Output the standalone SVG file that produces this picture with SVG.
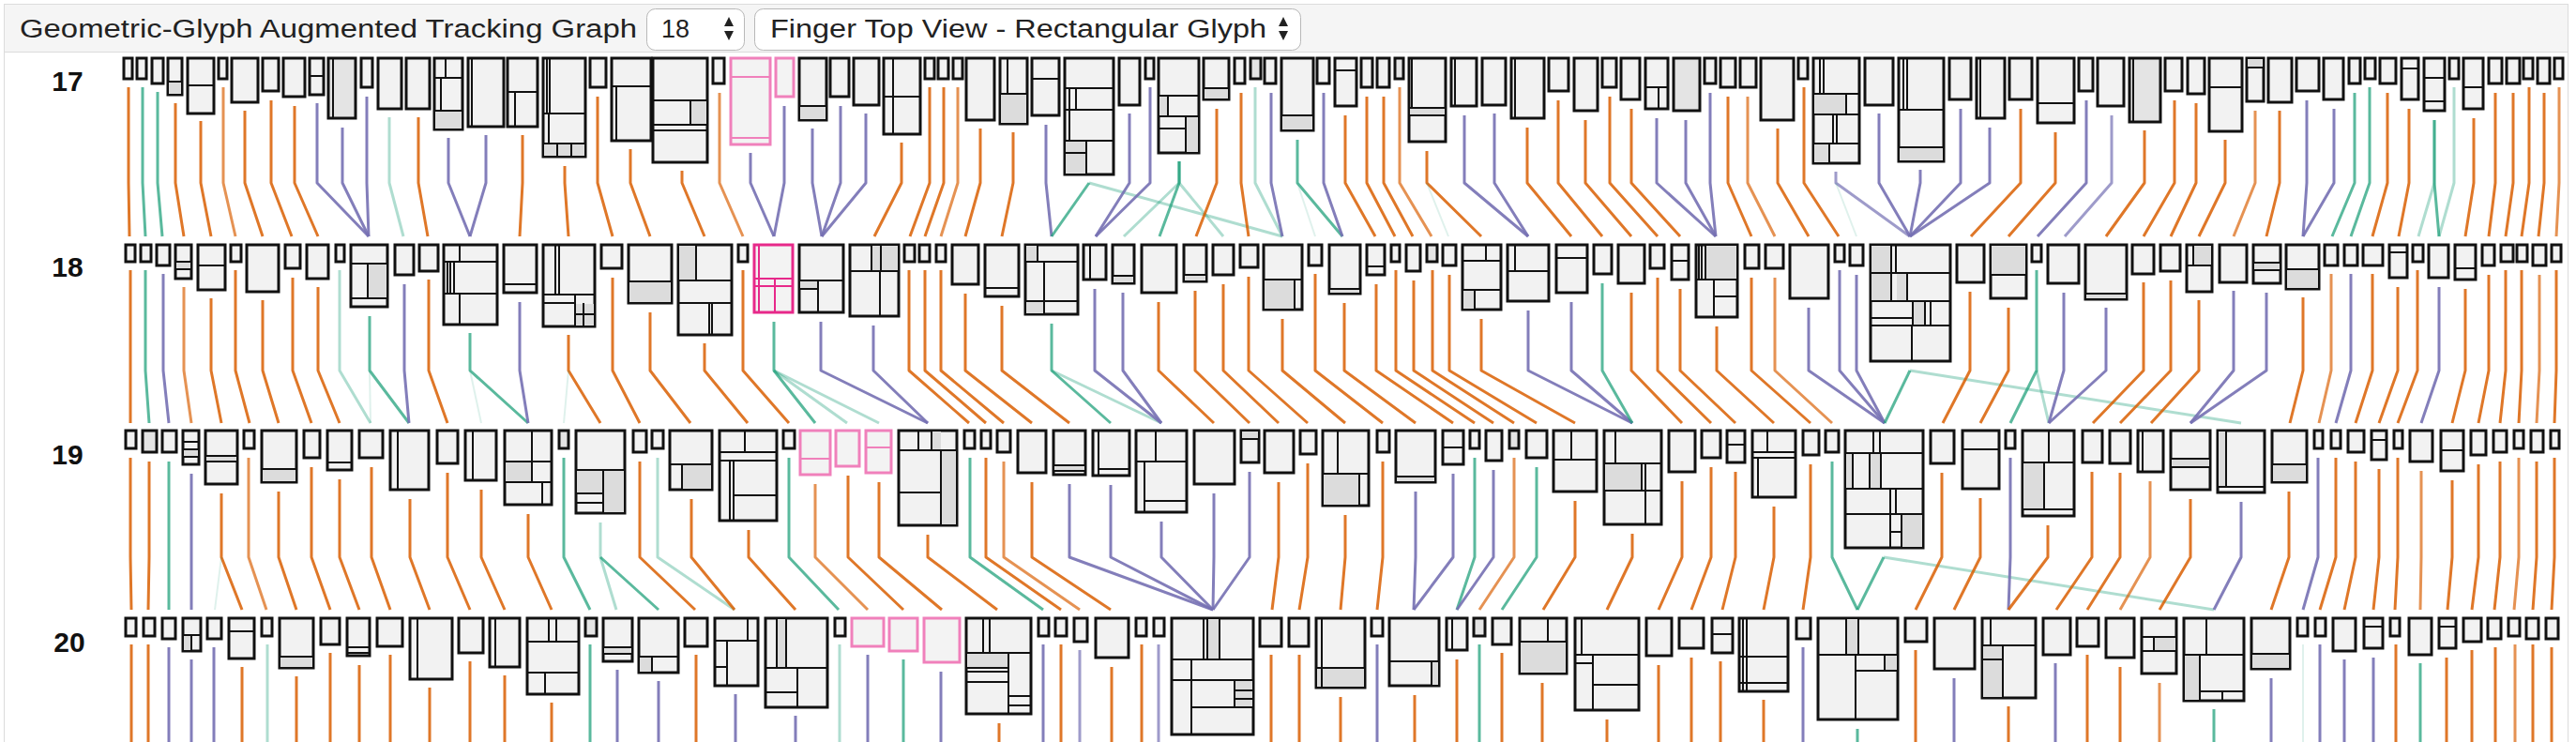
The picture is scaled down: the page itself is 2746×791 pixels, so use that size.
<svg xmlns="http://www.w3.org/2000/svg" width="2746" height="791" viewBox="0 0 2746 791">
<style>
.hd{font-family:"Liberation Sans",Arial,sans-serif;font-size:27px;fill:#222}
.lb{font-family:"Liberation Sans",Arial,sans-serif;font-size:30px;font-weight:bold;fill:#111;text-anchor:middle}
.n rect{fill:#f2f2f2;stroke:#111;stroke-width:3}
.n rect.d{fill:#dcdcdc;stroke:none}
.n rect.g{fill:#e4e4e4}
.n path{fill:none;stroke:#111;stroke-width:2}
.pkS rect{stroke:#e7298a;fill:#f3f3f3}
.pkS path{stroke:#e7298a}
.pkL rect{stroke:#f080bb;fill:#f3f3f3}
.pkL path{stroke:#f080bb}
#edges path{fill:none;stroke-width:3;stroke-linejoin:round}
#edges .o{stroke:#d95f02;stroke-opacity:.85}
#edges .ol{stroke:#d95f02;stroke-opacity:.68}
#edges .t{stroke:#1b9e77;stroke-opacity:.72}
#edges .tl{stroke:#1b9e77;stroke-opacity:.35}
#edges .tf{stroke:#1b9e77;stroke-opacity:.14;stroke-width:2}
#edges .p{stroke:#7570b3;stroke-opacity:.9}
#edges .q{stroke:#7570b3;stroke-opacity:.7}
</style>
<rect x="0" y="0" width="2746" height="791" fill="#fff"/>
<rect x="4.5" y="4.5" width="2733" height="51" fill="#f5f5f5" stroke="#dcdcdc"/>
<path d="M4.5 56V791M2737.5 56V791" stroke="#dcdcdc" fill="none"/>
<g id="header">
<text class="hd" x="21" y="40" textLength="658" lengthAdjust="spacingAndGlyphs">Geometric-Glyph Augmented Tracking Graph</text>
<rect x="689.5" y="9.5" width="104" height="44" rx="9" fill="#fff" stroke="#b8b8b8"/>
<text class="hd" x="705" y="40">18</text>
<path d="M772 28H782L777 18ZM772 33H782L777 43Z" fill="#222"/>
<rect x="804.5" y="9.5" width="582" height="44" rx="9" fill="#fff" stroke="#b8b8b8"/>
<text class="hd" x="821" y="40" textLength="529" lengthAdjust="spacingAndGlyphs">Finger Top View - Rectangular Glyph</text>
<path d="M1363 28H1373L1368 18ZM1363 33H1373L1368 43Z" fill="#222"/>
</g>
<g id="labels">
<text class="lb" x="72" y="97">17</text>
<text class="lb" x="72" y="295">18</text>
<text class="lb" x="72" y="495">19</text>
<text class="lb" x="74" y="695">20</text>
</g>
<g id="edges">
<path class="o" d="M137 93V195L138 252"/>
<path class="t" d="M152 93V195L155 252"/>
<path class="t" d="M168 98V195L173 252"/>
<path class="o" d="M187 110V195L196 252"/>
<path class="o" d="M214 129V195L225 252"/>
<path class="ol" d="M238 93V195L251 252"/>
<path class="o" d="M261 118V195L280 252"/>
<path class="o" d="M289 107V195L311 252"/>
<path class="o" d="M314 113V195L339 252"/>
<path class="p" d="M338 110V195L393 252"/>
<path class="p" d="M365 136V195L393 252"/>
<path class="p" d="M391 103V195L393 252"/>
<path class="tl" d="M415 125V195L430 252"/>
<path class="o" d="M446 125V195L456 252"/>
<path class="p" d="M478 147V195L501 252"/>
<path class="p" d="M518 144V195L501 252"/>
<path class="o" d="M557 144V195L554 252"/>
<path class="o" d="M602 177V195L606 252"/>
<path class="o" d="M637 103V195L653 252"/>
<path class="o" d="M672 159V195L693 252"/>
<path class="o" d="M727 182V195L751 252"/>
<path class="ol" d="M767 99V195L792 252"/>
<path class="p" d="M800 163V195L825 252"/>
<path class="p" d="M836 113V195L825 252"/>
<path class="p" d="M866 137V195L876 252"/>
<path class="p" d="M896 113V195L876 252"/>
<path class="p" d="M923 121V195L876 252"/>
<path class="o" d="M961 152V195L932 252"/>
<path class="o" d="M991 93V195L970 252"/>
<path class="o" d="M1006 93V195L986 252"/>
<path class="ol" d="M1021 93V195L1003 252"/>
<path class="o" d="M1045 137V195L1029 252"/>
<path class="o" d="M1080 141V195L1068 252"/>
<path class="p" d="M1115 133V195L1121 252"/>
<path class="t" d="M1161 195L1121 252"/>
<path class="tl" d="M1161 195L1367 252"/>
<path class="p" d="M1204 121V195L1168 252"/>
<path class="p" d="M1226 93V195L1168 252"/>
<path class="tl" d="M1257 172V195L1198 252"/>
<path class="t" d="M1257 172V195L1236 252"/>
<path class="tl" d="M1257 172V195L1304 252"/>
<path class="o" d="M1297 116V195L1275 252"/>
<path class="o" d="M1323 99V195L1331 252"/>
<path class="tl" d="M1338 93V195L1367 252"/>
<path class="p" d="M1355 99V195L1367 252"/>
<path class="t" d="M1383 149V195L1431 252"/>
<path class="tf" d="M1383 195L1402 252"/>
<path class="p" d="M1411 99V195L1431 252"/>
<path class="o" d="M1434 123V195L1466 252"/>
<path class="o" d="M1457 103V195L1487 252"/>
<path class="o" d="M1475 103V195L1506 252"/>
<path class="ol" d="M1492 93V195L1526 252"/>
<path class="o" d="M1521 161V195L1579 252"/>
<path class="tf" d="M1521 195L1544 252"/>
<path class="p" d="M1561 123V195L1629 252"/>
<path class="p" d="M1593 121V195L1629 252"/>
<path class="o" d="M1628 136V195L1675 252"/>
<path class="o" d="M1661 107V195L1708 252"/>
<path class="o" d="M1690 128V195L1739 252"/>
<path class="o" d="M1716 103V195L1767 252"/>
<path class="o" d="M1739 116V195L1791 252"/>
<path class="p" d="M1766 126V195L1829 252"/>
<path class="p" d="M1797 128V195L1829 252"/>
<path class="p" d="M1823 99V195L1829 252"/>
<path class="o" d="M1842 103V195L1867 252"/>
<path class="ol" d="M1863 103V195L1892 252"/>
<path class="o" d="M1895 137V195L1928 252"/>
<path class="o" d="M1923 93V195L1960 252"/>
<path class="q" d="M1957 183V195L2036 252"/>
<path class="tf" d="M1957 195L1979 252"/>
<path class="p" d="M2003 121V195L2036 252"/>
<path class="p" d="M2047 181V195L2036 252"/>
<path class="p" d="M2090 116V195L2036 252"/>
<path class="p" d="M2121 136V195L2036 252"/>
<path class="o" d="M2154 116V195L2101 252"/>
<path class="o" d="M2191 141V195L2141 252"/>
<path class="p" d="M2224 107V195L2172 252"/>
<path class="q" d="M2251 123V195L2201 252"/>
<path class="o" d="M2286 139V195L2245 252"/>
<path class="o" d="M2318 107V195L2285 252"/>
<path class="o" d="M2341 110V195L2314 252"/>
<path class="o" d="M2372 149V195L2344 252"/>
<path class="ol" d="M2404 118V195L2381 252"/>
<path class="o" d="M2430 118V195L2416 252"/>
<path class="p" d="M2459 107V195L2455 252"/>
<path class="p" d="M2488 116V195L2455 252"/>
<path class="t" d="M2510 99V195L2486 252"/>
<path class="t" d="M2526 93V195L2506 252"/>
<path class="o" d="M2545 99V195L2529 252"/>
<path class="o" d="M2568 116V195L2557 252"/>
<path class="tl" d="M2595 128V195L2578 252"/>
<path class="t" d="M2595 128V195L2600 252"/>
<path class="tl" d="M2616 93V195L2600 252"/>
<path class="o" d="M2637 126V195L2628 252"/>
<path class="o" d="M2660 99V195L2653 252"/>
<path class="o" d="M2679 99V195L2671 252"/>
<path class="o" d="M2696 93V195L2688 252"/>
<path class="o" d="M2712 99V195L2706 252"/>
<path class="ol" d="M2728 93V195L2725 252"/>
<path class="o" d="M139 288V395L139 451"/>
<path class="t" d="M155 288V395L159 451"/>
<path class="p" d="M174 292V395L180 451"/>
<path class="ol" d="M196 306V395L204 451"/>
<path class="o" d="M225 318V395L236 451"/>
<path class="o" d="M251 288V395L266 451"/>
<path class="o" d="M280 320V395L297 451"/>
<path class="o" d="M312 296V395L332 451"/>
<path class="o" d="M339 306V395L362 451"/>
<path class="tl" d="M362 288V395L395 451"/>
<path class="t" d="M394 337V395L436 451"/>
<path class="tf" d="M394 395L395 451"/>
<path class="p" d="M431 303V395L436 451"/>
<path class="o" d="M457 298V395L477 451"/>
<path class="t" d="M501 355V395L563 451"/>
<path class="tf" d="M501 395L513 451"/>
<path class="p" d="M554 322V395L563 451"/>
<path class="o" d="M606 357V395L640 451"/>
<path class="tf" d="M606 395L601 451"/>
<path class="o" d="M653 296V395L682 451"/>
<path class="o" d="M693 333V395L736 451"/>
<path class="o" d="M751 366V395L797 451"/>
<path class="o" d="M792 288V395L841 451"/>
<path class="t" d="M825 343V395L869 451"/>
<path class="tl" d="M825 395L903 451"/>
<path class="tl" d="M825 395L937 451"/>
<path class="p" d="M875 343V395L989 451"/>
<path class="p" d="M931 347V395L989 451"/>
<path class="o" d="M969 288V395L1033 451"/>
<path class="o" d="M986 288V395L1051 451"/>
<path class="o" d="M1003 288V395L1070 451"/>
<path class="o" d="M1029 313V395L1100 451"/>
<path class="o" d="M1068 326V395L1140 451"/>
<path class="t" d="M1121 345V395L1184 451"/>
<path class="tl" d="M1121 395L1238 451"/>
<path class="p" d="M1167 308V395L1238 451"/>
<path class="p" d="M1197 312V395L1238 451"/>
<path class="o" d="M1235 322V395L1294 451"/>
<path class="o" d="M1274 310V395L1332 451"/>
<path class="o" d="M1304 303V395L1363 451"/>
<path class="o" d="M1331 295V395L1394 451"/>
<path class="o" d="M1367 340V395L1434 451"/>
<path class="o" d="M1402 292V395L1474 451"/>
<path class="o" d="M1433 323V395L1509 451"/>
<path class="o" d="M1467 303V395L1549 451"/>
<path class="o" d="M1488 288V395L1572 451"/>
<path class="o" d="M1507 299V395L1592 451"/>
<path class="o" d="M1527 288V395L1614 451"/>
<path class="o" d="M1545 293V395L1638 451"/>
<path class="o" d="M1579 340V395L1679 451"/>
<path class="p" d="M1629 331V395L1740 451"/>
<path class="p" d="M1675 322V395L1740 451"/>
<path class="t" d="M1708 302V395L1740 451"/>
<path class="o" d="M1739 312V395L1793 451"/>
<path class="o" d="M1767 296V395L1824 451"/>
<path class="o" d="M1791 308V395L1850 451"/>
<path class="o" d="M1830 348V395L1891 451"/>
<path class="o" d="M1867 296V395L1930 451"/>
<path class="ol" d="M1892 296V395L1953 451"/>
<path class="p" d="M1928 328V395L2009 451"/>
<path class="p" d="M1961 288V395L2009 451"/>
<path class="p" d="M1979 293V395L2009 451"/>
<path class="t" d="M2036 395L2009 451"/>
<path class="tl" d="M2036 395L2389 451"/>
<path class="o" d="M2100 311V395L2071 451"/>
<path class="o" d="M2141 328V395L2111 451"/>
<path class="t" d="M2171 288V395L2143 451"/>
<path class="tl" d="M2171 395L2184 451"/>
<path class="p" d="M2200 312V395L2184 451"/>
<path class="p" d="M2245 328V395L2184 451"/>
<path class="o" d="M2285 301V395L2231 451"/>
<path class="o" d="M2314 299V395L2260 451"/>
<path class="o" d="M2344 320V395L2293 451"/>
<path class="p" d="M2381 310V395L2335 451"/>
<path class="p" d="M2416 312V395L2335 451"/>
<path class="o" d="M2455 317V395L2441 451"/>
<path class="ol" d="M2485 292V395L2472 451"/>
<path class="p" d="M2506 292V395L2490 451"/>
<path class="o" d="M2529 292V395L2511 451"/>
<path class="o" d="M2556 306V395L2536 451"/>
<path class="o" d="M2577 288V395L2556 451"/>
<path class="p" d="M2600 306V395L2581 451"/>
<path class="o" d="M2628 308V395L2614 451"/>
<path class="o" d="M2653 293V395L2642 451"/>
<path class="o" d="M2671 288V395L2665 451"/>
<path class="o" d="M2688 288V395L2685 451"/>
<path class="ol" d="M2707 293V395L2704 451"/>
<path class="o" d="M2725 288V395L2723 451"/>
<path class="o" d="M139 488V594L140 650"/>
<path class="o" d="M159 492V594L158 650"/>
<path class="t" d="M180 492V594L180 650"/>
<path class="p" d="M204 505V594L204 650"/>
<path class="o" d="M236 526V594L258 650"/>
<path class="tf" d="M236 594L229 650"/>
<path class="ol" d="M265 488V594L284 650"/>
<path class="o" d="M297 524V594L316 650"/>
<path class="o" d="M332 498V594L352 650"/>
<path class="o" d="M362 511V594L383 650"/>
<path class="o" d="M396 498V594L416 650"/>
<path class="o" d="M437 532V594L458 650"/>
<path class="o" d="M477 504V594L501 650"/>
<path class="o" d="M513 522V594L538 650"/>
<path class="o" d="M563 548V594L588 650"/>
<path class="t" d="M601 488V594L629 650"/>
<path class="tl" d="M640 557V594L657 650"/>
<path class="t" d="M640 594L702 650"/>
<path class="o" d="M682 492V594L741 650"/>
<path class="tl" d="M701 488V594L783 650"/>
<path class="o" d="M737 532V594L783 650"/>
<path class="o" d="M798 565V594L848 650"/>
<path class="t" d="M841 488V594L894 650"/>
<path class="ol" d="M869 516V594L925 650"/>
<path class="o" d="M904 507V594L963 650"/>
<path class="o" d="M937 514V594L1004 650"/>
<path class="o" d="M989 570V594L1063 650"/>
<path class="t" d="M1034 488V594L1112 650"/>
<path class="o" d="M1051 488V594L1131 650"/>
<path class="ol" d="M1070 492V594L1151 650"/>
<path class="o" d="M1100 514V594L1184 650"/>
<path class="p" d="M1140 516V594L1293 650"/>
<path class="p" d="M1184 517V594L1293 650"/>
<path class="p" d="M1238 556V594L1293 650"/>
<path class="p" d="M1294 526V594L1293 650"/>
<path class="p" d="M1332 503V594L1293 650"/>
<path class="o" d="M1363 514V594L1356 650"/>
<path class="o" d="M1394 494V594L1385 650"/>
<path class="o" d="M1434 549V594L1429 650"/>
<path class="o" d="M1474 492V594L1468 650"/>
<path class="p" d="M1509 524V594L1507 650"/>
<path class="p" d="M1549 505V594L1507 650"/>
<path class="t" d="M1572 488V594L1553 650"/>
<path class="p" d="M1592 501V594L1553 650"/>
<path class="ol" d="M1614 488V594L1577 650"/>
<path class="t" d="M1638 498V594L1601 650"/>
<path class="o" d="M1679 534V594L1645 650"/>
<path class="o" d="M1740 569V594L1713 650"/>
<path class="o" d="M1793 513V594L1768 650"/>
<path class="o" d="M1824 498V594L1803 650"/>
<path class="o" d="M1850 503V594L1836 650"/>
<path class="o" d="M1891 540V594L1880 650"/>
<path class="o" d="M1930 495V594L1922 650"/>
<path class="t" d="M1953 492V594L1980 650"/>
<path class="t" d="M2008 594L1980 650"/>
<path class="tl" d="M2008 594L2360 650"/>
<path class="o" d="M2070 504V594L2042 650"/>
<path class="o" d="M2111 531V594L2083 650"/>
<path class="p" d="M2143 488V594L2141 650"/>
<path class="o" d="M2183 560V594L2141 650"/>
<path class="o" d="M2230 503V594L2192 650"/>
<path class="o" d="M2260 504V594L2225 650"/>
<path class="ol" d="M2292 513V594L2260 650"/>
<path class="o" d="M2335 532V594L2302 650"/>
<path class="p" d="M2389 535V594L2360 650"/>
<path class="o" d="M2440 524V594L2421 650"/>
<path class="p" d="M2471 488V594L2455 650"/>
<path class="o" d="M2490 488V594L2473 650"/>
<path class="o" d="M2511 492V594L2499 650"/>
<path class="o" d="M2536 500V594L2530 650"/>
<path class="o" d="M2556 488V594L2553 650"/>
<path class="ol" d="M2581 502V594L2580 650"/>
<path class="o" d="M2614 512V594L2609 650"/>
<path class="o" d="M2642 495V594L2635 650"/>
<path class="o" d="M2665 492V594L2659 650"/>
<path class="ol" d="M2685 488V594L2680 650"/>
<path class="o" d="M2704 492V594L2700 650"/>
<path class="o" d="M2723 488V594L2720 650"/>
<path class="o" d="M140 687V791M158 687V791M258 711V791M316 721V791M352 696V791M383 709V791M416 698V791M458 733V791M501 705V791M538 720V791M588 749V791M742 698V791M1065 771V791M1131 687V791M1185 711V791M1217 687V791M1355 698V791M1385 698V791M1429 743V791M1508 741V791M1553 703V791M1601 696V791M1644 728V791M1713 767V791M1768 709V791M1803 701V791M1834 705V791M1880 746V791M2042 693V791M2141 753V791M2225 698V791M2260 711V791M2554 687V791M2608 701V791M2635 693V791M2660 690V791M2700 687V791M2720 690V791"/>
<path class="ol" d="M2302 728V791M2681 687V791"/>
<path class="p" d="M180 690V791M204 703V791M228 690V791M658 714V791M702 726V791M784 740V791M848 763V791M925 698V791M1003 716V791M1112 687V791M1468 687V791M1922 690V791M2083 723V791M2191 707V791M2421 723V791M2473 687V791M2499 703V791M2530 701V791"/>
<path class="q" d="M1151 693V791M1235 687V791"/>
<path class="t" d="M629 687V791M963 703V791M1577 687V791M1980 777V791M2360 756V791M2580 707V791"/>
<path class="tl" d="M285 687V791M895 687V791"/>
<path class="tf" d="M2455 687V791"/>
</g>
<g id="row17">
<g id="n17-1" class="n"><rect x="132" y="62" width="9" height="22"/></g>
<g id="n17-2" class="n"><rect x="146" y="62" width="10" height="22"/></g>
<g id="n17-3" class="n"><rect x="162" y="62" width="12" height="27"/></g>
<g id="n17-4" class="n"><rect x="179" y="62" width="15" height="39"/><rect class="d" x="180" y="88" width="13" height="12"/><path d="M179 87H194"/></g>
<g id="n17-5" class="n"><rect x="200" y="62" width="28" height="59"/><path d="M200 91H228"/></g>
<g id="n17-6" class="n"><rect x="233" y="62" width="9" height="22"/></g>
<g id="n17-7" class="n"><rect x="247" y="62" width="28" height="47"/></g>
<g id="n17-8" class="n"><rect x="280" y="62" width="17" height="35"/></g>
<g id="n17-9" class="n"><rect x="302" y="62" width="23" height="41"/></g>
<g id="n17-10" class="n"><rect x="330" y="62" width="15" height="39"/><path d="M330 81H345"/></g>
<g id="n17-11" class="n"><rect class="g" x="350" y="62" width="29" height="64"/><path d="M355 62V126"/></g>
<g id="n17-12" class="n"><rect x="385" y="62" width="12" height="31"/></g>
<g id="n17-13" class="n"><rect x="403" y="62" width="25" height="54"/></g>
<g id="n17-14" class="n"><rect x="433" y="62" width="25" height="54"/></g>
<g id="n17-15" class="n"><rect x="463" y="62" width="30" height="76"/><rect class="d" x="464" y="119" width="28" height="18"/><path d="M463 83H493M463 118H493M475 62V83M470 83V118"/></g>
<g id="n17-16" class="n"><rect x="499" y="62" width="38" height="73"/><path d="M503 62V135"/></g>
<g id="n17-17" class="n"><rect x="541" y="62" width="32" height="73"/><path d="M541 98H573M549 98V135"/></g>
<g id="n17-18" class="n"><rect x="579" y="62" width="45" height="105"/><rect class="d" x="580" y="154" width="43" height="12"/><path d="M579 121H624M579 153H624M583 62V121M586 62V121M585 121V153M594 153V167M609 153V167"/></g>
<g id="n17-19" class="n"><rect x="629" y="62" width="17" height="31"/></g>
<g id="n17-20" class="n"><rect x="652" y="62" width="42" height="88"/><path d="M652 92H694M657 92V150"/></g>
<g id="n17-21" class="n"><rect x="696" y="62" width="58" height="111"/><rect class="d" x="737" y="108" width="16" height="24"/><path d="M696 107H754M696 133H754M696 139H754M736 107V133"/></g>
<g id="n17-22" class="n"><rect x="760" y="62" width="12" height="27"/></g>
<g id="n17-23" class="n pkL"><rect x="779" y="62" width="42" height="92"/><path d="M779 82H821M779 147H821"/></g>
<g id="n17-24" class="n pkL"><rect x="827" y="62" width="19" height="41"/></g>
<g id="n17-25" class="n"><rect x="852" y="62" width="29" height="66"/><rect class="d" x="853" y="114" width="27" height="13"/><path d="M852 113H881"/></g>
<g id="n17-26" class="n"><rect x="885" y="62" width="20" height="41"/></g>
<g id="n17-27" class="n"><rect x="910" y="62" width="27" height="50"/></g>
<g id="n17-28" class="n"><rect x="942" y="62" width="39" height="81"/><path d="M942 103H981M952 62V143"/></g>
<g id="n17-29" class="n"><rect x="986" y="62" width="10" height="22"/></g>
<g id="n17-30" class="n"><rect x="1000" y="62" width="11" height="22"/></g>
<g id="n17-31" class="n"><rect x="1016" y="62" width="10" height="22"/></g>
<g id="n17-32" class="n"><rect x="1030" y="62" width="30" height="66"/></g>
<g id="n17-33" class="n"><rect x="1066" y="62" width="29" height="70"/><rect class="d" x="1067" y="101" width="27" height="30"/><path d="M1066 100H1095M1074 62V100"/></g>
<g id="n17-34" class="n"><rect x="1100" y="62" width="29" height="61"/><path d="M1100 84H1129"/></g>
<g id="n17-35" class="n"><rect x="1135" y="62" width="52" height="124"/><rect class="d" x="1136" y="151" width="21" height="34"/><path d="M1135 94H1187M1135 117H1187M1135 150H1187M1135 163H1158M1140 94V150M1147 94V117M1158 150V186"/></g>
<g id="n17-36" class="n"><rect x="1193" y="62" width="22" height="50"/></g>
<g id="n17-37" class="n"><rect x="1221" y="62" width="9" height="22"/></g>
<g id="n17-38" class="n"><rect x="1235" y="62" width="43" height="101"/><rect class="d" x="1236" y="103" width="9" height="21"/><rect class="d" x="1265" y="125" width="12" height="37"/><path d="M1235 102H1278M1235 124H1278M1235 137H1264M1245 102V124M1264 124V163"/></g>
<g id="n17-39" class="n"><rect x="1283" y="62" width="27" height="44"/><rect class="d" x="1284" y="95" width="25" height="10"/><path d="M1283 94H1310"/></g>
<g id="n17-40" class="n"><rect x="1316" y="62" width="11" height="27"/></g>
<g id="n17-41" class="n"><rect class="g" x="1333" y="62" width="11" height="22"/></g>
<g id="n17-42" class="n"><rect x="1348" y="62" width="12" height="27"/></g>
<g id="n17-43" class="n"><rect x="1366" y="62" width="34" height="77"/><rect class="d" x="1367" y="124" width="32" height="14"/><path d="M1366 123H1400"/></g>
<g id="n17-44" class="n"><rect x="1404" y="62" width="13" height="27"/></g>
<g id="n17-45" class="n"><rect x="1423" y="62" width="23" height="51"/><path d="M1423 75H1446"/></g>
<g id="n17-46" class="n"><rect x="1451" y="62" width="12" height="31"/></g>
<g id="n17-47" class="n"><rect x="1468" y="62" width="13" height="31"/></g>
<g id="n17-48" class="n"><rect class="g" x="1487" y="62" width="9" height="22"/></g>
<g id="n17-49" class="n"><rect x="1502" y="62" width="39" height="89"/><rect class="d" x="1503" y="116" width="37" height="7"/><path d="M1505 62V115M1502 115H1541M1502 123H1541"/></g>
<g id="n17-50" class="n"><rect x="1547" y="62" width="27" height="51"/><path d="M1551 62V113"/></g>
<g id="n17-51" class="n"><rect x="1580" y="62" width="25" height="50"/></g>
<g id="n17-52" class="n"><rect x="1611" y="62" width="35" height="64"/><path d="M1615 62V126"/></g>
<g id="n17-53" class="n"><rect x="1651" y="62" width="21" height="35"/></g>
<g id="n17-54" class="n"><rect x="1678" y="62" width="25" height="56"/></g>
<g id="n17-55" class="n"><rect x="1708" y="62" width="15" height="31"/></g>
<g id="n17-56" class="n"><rect x="1728" y="62" width="20" height="44"/></g>
<g id="n17-57" class="n"><rect x="1754" y="62" width="24" height="54"/><path d="M1754 93H1778M1768 93V116"/></g>
<g id="n17-58" class="n"><rect class="g" x="1784" y="62" width="28" height="56"/></g>
<g id="n17-59" class="n"><rect x="1817" y="62" width="12" height="27"/></g>
<g id="n17-60" class="n"><rect x="1834" y="62" width="16" height="31"/></g>
<g id="n17-61" class="n"><rect x="1855" y="62" width="17" height="31"/></g>
<g id="n17-62" class="n"><rect x="1877" y="62" width="35" height="66"/></g>
<g id="n17-63" class="n"><rect x="1917" y="62" width="10" height="22"/></g>
<g id="n17-64" class="n"><rect x="1933" y="62" width="49" height="112"/><rect class="d" x="1934" y="101" width="34" height="21"/><rect class="d" x="1934" y="154" width="16" height="19"/><path d="M1933 100H1982M1933 122H1982M1933 153H1982M1940 62V100M1944 62V100M1968 100V122M1954 122V153M1958 122V153M1950 153V174"/></g>
<g id="n17-65" class="n"><rect x="1988" y="62" width="30" height="50"/></g>
<g id="n17-66" class="n"><rect x="2024" y="62" width="48" height="110"/><rect class="d" x="2025" y="158" width="46" height="13"/><path d="M2029 62V117M2033 62V117M2024 117H2072M2024 157H2072"/></g>
<g id="n17-67" class="n"><rect x="2078" y="62" width="23" height="44"/></g>
<g id="n17-68" class="n"><rect x="2107" y="62" width="30" height="64"/><path d="M2111 62V126"/></g>
<g id="n17-69" class="n"><rect x="2142" y="62" width="24" height="44"/></g>
<g id="n17-70" class="n"><rect x="2172" y="62" width="39" height="69"/><path d="M2172 110H2211"/></g>
<g id="n17-71" class="n"><rect x="2216" y="62" width="15" height="35"/></g>
<g id="n17-72" class="n"><rect x="2236" y="62" width="28" height="51"/></g>
<g id="n17-73" class="n"><rect class="g" x="2270" y="62" width="33" height="68"/><path d="M2274 62V130"/></g>
<g id="n17-74" class="n"><rect x="2308" y="62" width="18" height="35"/></g>
<g id="n17-75" class="n"><rect x="2332" y="62" width="18" height="38"/></g>
<g id="n17-76" class="n"><rect x="2355" y="62" width="35" height="78"/><path d="M2355 93H2390"/></g>
<g id="n17-77" class="n"><rect x="2395" y="62" width="18" height="46"/><rect class="d" x="2396" y="63" width="16" height="9"/><path d="M2395 72H2413"/></g>
<g id="n17-78" class="n"><rect x="2418" y="62" width="25" height="47"/></g>
<g id="n17-79" class="n"><rect x="2448" y="62" width="24" height="35"/></g>
<g id="n17-80" class="n"><rect x="2477" y="62" width="21" height="44"/></g>
<g id="n17-81" class="n"><rect x="2504" y="62" width="12" height="27"/></g>
<g id="n17-82" class="n"><rect x="2521" y="62" width="11" height="22"/></g>
<g id="n17-83" class="n"><rect x="2537" y="62" width="17" height="27"/></g>
<g id="n17-84" class="n"><rect x="2560" y="62" width="18" height="44"/><path d="M2560 73H2578"/></g>
<g id="n17-85" class="n"><rect x="2584" y="62" width="22" height="56"/><path d="M2584 83H2606M2584 108H2606"/></g>
<g id="n17-86" class="n"><rect x="2611" y="62" width="10" height="22"/></g>
<g id="n17-87" class="n"><rect x="2626" y="62" width="21" height="54"/><path d="M2626 93H2647"/></g>
<g id="n17-88" class="n"><rect x="2653" y="62" width="14" height="27"/></g>
<g id="n17-89" class="n"><rect x="2672" y="62" width="14" height="27"/></g>
<g id="n17-90" class="n"><rect x="2690" y="62" width="10" height="22"/></g>
<g id="n17-91" class="n"><rect x="2705" y="62" width="13" height="27"/></g>
<g id="n17-92" class="n"><rect x="2723" y="62" width="9" height="22"/></g>
</g>
<g id="row18">
<g id="n18-1" class="n"><rect x="134" y="261" width="10" height="18"/></g>
<g id="n18-2" class="n"><rect x="150" y="261" width="11" height="18"/></g>
<g id="n18-3" class="n"><rect x="167" y="261" width="14" height="22"/></g>
<g id="n18-4" class="n"><rect x="187" y="261" width="17" height="36"/><rect class="d" x="188" y="279" width="15" height="8"/><path d="M187 279H204M187 287H204"/></g>
<g id="n18-5" class="n"><rect x="211" y="261" width="29" height="48"/><path d="M211 283H240"/></g>
<g id="n18-6" class="n"><rect x="246" y="261" width="11" height="18"/></g>
<g id="n18-7" class="n"><rect x="263" y="261" width="34" height="50"/></g>
<g id="n18-8" class="n"><rect x="304" y="261" width="16" height="25"/></g>
<g id="n18-9" class="n"><rect x="327" y="261" width="23" height="36"/></g>
<g id="n18-10" class="n"><rect x="358" y="261" width="9" height="18"/></g>
<g id="n18-11" class="n"><rect x="374" y="261" width="39" height="66"/><rect class="d" x="393" y="282" width="19" height="36"/><path d="M374 281H413M374 318H413M392 281V318"/></g>
<g id="n18-12" class="n"><rect x="421" y="261" width="20" height="32"/></g>
<g id="n18-13" class="n"><rect x="447" y="261" width="20" height="28"/></g>
<g id="n18-14" class="n"><rect x="473" y="261" width="57" height="85"/><path d="M473 279H530M473 313H530M490 261V279M477 279V313M480 279V313M484 279V313M490 313V346"/></g>
<g id="n18-15" class="n"><rect x="537" y="261" width="35" height="51"/><path d="M537 303H572"/></g>
<g id="n18-16" class="n"><rect x="579" y="261" width="55" height="87"/><rect class="d" x="614" y="324" width="19" height="23"/><path d="M592 261V314M596 261V314M579 314H634M579 323H613M613 314V348M622 323V348M613 335H634"/></g>
<g id="n18-17" class="n"><rect x="641" y="261" width="22" height="25"/></g>
<g id="n18-18" class="n"><rect x="670" y="261" width="46" height="62"/><rect class="d" x="671" y="301" width="44" height="21"/><path d="M670 300H716"/></g>
<g id="n18-19" class="n"><rect x="723" y="261" width="57" height="96"/><rect class="d" x="724" y="262" width="18" height="36"/><path d="M742 261V299M723 299H780M723 323H780M756 323V357M759 323V357"/></g>
<g id="n18-20" class="n"><rect x="787" y="261" width="10" height="18"/></g>
<g id="n18-21" class="n pkS"><rect x="804" y="261" width="41" height="72"/><path d="M809 261V333M804 297H845M804 305H845M826 297V333"/></g>
<g id="n18-22" class="n"><rect x="852" y="261" width="47" height="72"/><rect class="d" x="853" y="300" width="19" height="8"/><path d="M852 299H899M852 308H872M872 299V333"/></g>
<g id="n18-23" class="n"><rect x="906" y="261" width="52" height="76"/><rect class="d" x="930" y="262" width="8" height="27"/><rect class="d" x="940" y="262" width="17" height="27"/><path d="M929 261V289M939 261V289M906 289H958M938 289V337"/></g>
<g id="n18-24" class="n"><rect x="964" y="261" width="11" height="18"/></g>
<g id="n18-25" class="n"><rect x="980" y="261" width="11" height="18"/></g>
<g id="n18-26" class="n"><rect x="998" y="261" width="10" height="18"/></g>
<g id="n18-27" class="n"><rect x="1015" y="261" width="28" height="42"/></g>
<g id="n18-28" class="n"><rect x="1050" y="261" width="36" height="55"/><path d="M1050 307H1086"/></g>
<g id="n18-29" class="n"><rect x="1093" y="261" width="56" height="74"/><rect class="d" x="1094" y="262" width="12" height="17"/><rect class="d" x="1094" y="322" width="19" height="12"/><path d="M1106 261V279M1093 279H1149M1113 279V335M1093 321H1149"/></g>
<g id="n18-30" class="n"><rect x="1155" y="261" width="24" height="37"/><path d="M1162 261V298"/></g>
<g id="n18-31" class="n"><rect x="1186" y="261" width="23" height="41"/><rect class="d" x="1187" y="295" width="21" height="6"/><path d="M1186 294H1209"/></g>
<g id="n18-32" class="n"><rect x="1217" y="261" width="37" height="51"/></g>
<g id="n18-33" class="n"><rect x="1262" y="261" width="24" height="39"/><rect class="d" x="1263" y="294" width="22" height="5"/><path d="M1262 293H1286"/></g>
<g id="n18-34" class="n"><rect x="1293" y="261" width="22" height="32"/></g>
<g id="n18-35" class="n"><rect x="1322" y="261" width="19" height="24"/></g>
<g id="n18-36" class="n"><rect x="1347" y="261" width="41" height="69"/><rect class="d" x="1348" y="299" width="32" height="30"/><path d="M1347 298H1388M1380 298V330"/></g>
<g id="n18-37" class="n"><rect x="1395" y="261" width="14" height="22"/></g>
<g id="n18-38" class="n"><rect x="1417" y="261" width="33" height="52"/><rect class="d" x="1418" y="309" width="31" height="3"/><path d="M1417 308H1450"/></g>
<g id="n18-39" class="n"><rect x="1457" y="261" width="19" height="32"/><path d="M1457 284H1476"/></g>
<g id="n18-40" class="n"><rect x="1483" y="261" width="9" height="18"/></g>
<g id="n18-41" class="n"><rect x="1499" y="261" width="15" height="28"/></g>
<g id="n18-42" class="n"><rect class="g" x="1521" y="261" width="11" height="18"/></g>
<g id="n18-43" class="n"><rect x="1538" y="261" width="14" height="22"/></g>
<g id="n18-44" class="n"><rect x="1559" y="261" width="41" height="69"/><rect class="d" x="1560" y="310" width="12" height="19"/><path d="M1584 261V278M1559 278H1600M1559 309H1600M1572 309V330"/></g>
<g id="n18-45" class="n"><rect x="1607" y="261" width="44" height="60"/><path d="M1615 261V289M1607 289H1651"/></g>
<g id="n18-46" class="n"><rect x="1659" y="261" width="33" height="51"/><path d="M1659 275H1692"/></g>
<g id="n18-47" class="n"><rect x="1699" y="261" width="19" height="31"/></g>
<g id="n18-48" class="n"><rect x="1725" y="261" width="28" height="41"/></g>
<g id="n18-49" class="n"><rect x="1759" y="261" width="15" height="25"/></g>
<g id="n18-50" class="n"><rect x="1782" y="261" width="18" height="37"/><path d="M1782 278H1800"/></g>
<g id="n18-51" class="n"><rect x="1808" y="261" width="44" height="77"/><rect class="d" x="1819" y="262" width="32" height="36"/><path d="M1811 261V298M1814 261V298M1818 261V298M1808 298H1852M1827 298V338M1827 316H1852"/></g>
<g id="n18-52" class="n"><rect x="1860" y="261" width="15" height="25"/></g>
<g id="n18-53" class="n"><rect x="1882" y="261" width="19" height="25"/></g>
<g id="n18-54" class="n"><rect x="1908" y="261" width="41" height="57"/></g>
<g id="n18-55" class="n"><rect x="1956" y="261" width="10" height="18"/></g>
<g id="n18-56" class="n"><rect x="1972" y="261" width="14" height="22"/></g>
<g id="n18-57" class="n"><rect x="1994" y="261" width="85" height="124"/><rect class="d" x="1995" y="262" width="21" height="29"/><rect class="d" x="1995" y="292" width="21" height="29"/><rect class="d" x="2022" y="292" width="11" height="29"/><rect class="d" x="2039" y="322" width="13" height="25"/><path d="M2016 261V291M2021 261V291M1994 291H2079M2016 291V321M2033 291V321M1994 321H2079M2039 321V347M2052 321V347M2058 321V347M1994 339H2039M1994 347H2079M2038 347V385"/></g>
<g id="n18-58" class="n"><rect x="2086" y="261" width="29" height="40"/></g>
<g id="n18-59" class="n"><rect x="2122" y="261" width="38" height="57"/><rect class="d" x="2123" y="262" width="36" height="31"/><path d="M2122 293H2160"/></g>
<g id="n18-60" class="n"><rect x="2166" y="261" width="10" height="18"/></g>
<g id="n18-61" class="n"><rect x="2183" y="261" width="33" height="41"/></g>
<g id="n18-62" class="n"><rect x="2223" y="261" width="44" height="58"/><rect class="d" x="2224" y="314" width="42" height="4"/><path d="M2223 313H2267"/></g>
<g id="n18-63" class="n"><rect x="2273" y="261" width="23" height="31"/></g>
<g id="n18-64" class="n"><rect x="2303" y="261" width="21" height="28"/></g>
<g id="n18-65" class="n"><rect x="2331" y="261" width="27" height="50"/><rect class="d" x="2339" y="262" width="18" height="21"/><path d="M2338 261V283M2331 283H2358"/></g>
<g id="n18-66" class="n"><rect x="2366" y="261" width="29" height="40"/></g>
<g id="n18-67" class="n"><rect x="2402" y="261" width="29" height="41"/><rect class="d" x="2403" y="281" width="27" height="7"/><path d="M2402 280H2431M2402 288H2431"/></g>
<g id="n18-68" class="n"><rect x="2437" y="261" width="35" height="47"/><rect class="d" x="2438" y="288" width="33" height="19"/><path d="M2437 287H2472"/></g>
<g id="n18-69" class="n"><rect x="2478" y="261" width="14" height="22"/></g>
<g id="n18-70" class="n"><rect x="2499" y="261" width="14" height="22"/></g>
<g id="n18-71" class="n"><rect x="2519" y="261" width="21" height="22"/></g>
<g id="n18-72" class="n"><rect x="2547" y="261" width="19" height="35"/><path d="M2547 269H2566"/></g>
<g id="n18-73" class="n"><rect x="2572" y="261" width="11" height="18"/></g>
<g id="n18-74" class="n"><rect x="2589" y="261" width="21" height="35"/></g>
<g id="n18-75" class="n"><rect x="2617" y="261" width="22" height="37"/><path d="M2617 286H2639"/></g>
<g id="n18-76" class="n"><rect x="2646" y="261" width="13" height="22"/></g>
<g id="n18-77" class="n"><rect x="2666" y="261" width="13" height="18"/></g>
<g id="n18-78" class="n"><rect x="2683" y="261" width="11" height="18"/></g>
<g id="n18-79" class="n"><rect x="2700" y="261" width="14" height="22"/></g>
<g id="n18-80" class="n"><rect x="2720" y="261" width="10" height="18"/></g>
</g>
<g id="row19">
<g id="n19-1" class="n"><rect x="134" y="459" width="11" height="19"/></g>
<g id="n19-2" class="n"><rect class="g" x="152" y="459" width="15" height="23"/></g>
<g id="n19-3" class="n"><rect x="173" y="459" width="15" height="23"/></g>
<g id="n19-4" class="n"><rect x="195" y="459" width="17" height="36"/><rect class="d" x="196" y="480" width="15" height="7"/><path d="M195 471H212M195 479H212M195 487H212"/></g>
<g id="n19-5" class="n"><rect x="219" y="459" width="34" height="57"/><rect class="d" x="220" y="487" width="32" height="5"/><path d="M219 486H253M219 492H253"/></g>
<g id="n19-6" class="n"><rect x="260" y="459" width="11" height="19"/></g>
<g id="n19-7" class="n"><rect x="279" y="459" width="37" height="55"/><rect class="d" x="280" y="501" width="35" height="12"/><path d="M279 500H316"/></g>
<g id="n19-8" class="n"><rect x="324" y="459" width="17" height="29"/></g>
<g id="n19-9" class="n"><rect x="349" y="459" width="26" height="42"/><path d="M349 493H375"/></g>
<g id="n19-10" class="n"><rect x="383" y="459" width="25" height="29"/></g>
<g id="n19-11" class="n"><rect x="416" y="459" width="41" height="63"/><path d="M424 459V522"/></g>
<g id="n19-12" class="n"><rect x="466" y="459" width="22" height="35"/></g>
<g id="n19-13" class="n"><rect x="496" y="459" width="33" height="53"/><path d="M504 459V512"/></g>
<g id="n19-14" class="n"><rect x="538" y="459" width="50" height="79"/><rect class="d" x="539" y="493" width="28" height="21"/><path d="M567 459V514M538 492H588M538 514H588M578 514V538"/></g>
<g id="n19-15" class="n"><rect class="g" x="596" y="459" width="10" height="19"/></g>
<g id="n19-16" class="n"><rect x="614" y="459" width="52" height="88"/><rect class="d" x="615" y="502" width="28" height="23"/><rect class="d" x="644" y="502" width="21" height="44"/><path d="M614 501H666M643 501V547M614 526H643M614 536H643"/></g>
<g id="n19-17" class="n"><rect x="675" y="459" width="14" height="23"/></g>
<g id="n19-18" class="n"><rect x="695" y="459" width="12" height="19"/></g>
<g id="n19-19" class="n"><rect x="714" y="459" width="45" height="63"/><rect class="d" x="728" y="496" width="30" height="25"/><path d="M714 495H759M727 495V522"/></g>
<g id="n19-20" class="n"><rect x="767" y="459" width="61" height="96"/><path d="M794 459V482M767 482H828M767 491H828M778 491V555M782 491V555M782 528H828"/></g>
<g id="n19-21" class="n"><rect x="835" y="459" width="12" height="19"/></g>
<g id="n19-22" class="n pkL"><rect x="853" y="459" width="32" height="47"/><path d="M853 489H885"/></g>
<g id="n19-23" class="n pkL"><rect x="891" y="459" width="25" height="38"/></g>
<g id="n19-24" class="n pkL"><rect x="923" y="459" width="27" height="45"/><path d="M923 477H950"/></g>
<g id="n19-25" class="n"><rect x="958" y="459" width="62" height="101"/><rect class="d" x="994" y="460" width="9" height="20"/><rect class="d" x="1004" y="481" width="15" height="78"/><path d="M979 459V480M993 459V480M958 480H1020M1003 480V560M958 525H1003"/></g>
<g id="n19-26" class="n"><rect x="1028" y="459" width="11" height="19"/></g>
<g id="n19-27" class="n"><rect x="1046" y="459" width="10" height="19"/></g>
<g id="n19-28" class="n"><rect x="1063" y="459" width="14" height="23"/></g>
<g id="n19-29" class="n"><rect x="1085" y="459" width="30" height="45"/></g>
<g id="n19-30" class="n"><rect x="1123" y="459" width="34" height="47"/><rect class="d" x="1124" y="497" width="32" height="5"/><path d="M1123 496H1157M1123 502H1157"/></g>
<g id="n19-31" class="n"><rect x="1165" y="459" width="39" height="48"/><path d="M1171 459V507M1171 500H1204"/></g>
<g id="n19-32" class="n"><rect x="1211" y="459" width="54" height="87"/><path d="M1232 459V492M1211 492H1265M1220 492V546M1220 534H1265"/></g>
<g id="n19-33" class="n"><rect x="1273" y="459" width="43" height="57"/></g>
<g id="n19-34" class="n"><rect x="1323" y="459" width="19" height="34"/><rect class="d" x="1324" y="460" width="17" height="8"/><path d="M1323 468H1342"/></g>
<g id="n19-35" class="n"><rect x="1348" y="459" width="31" height="45"/></g>
<g id="n19-36" class="n"><rect x="1386" y="459" width="17" height="25"/></g>
<g id="n19-37" class="n"><rect x="1410" y="459" width="49" height="80"/><rect class="d" x="1411" y="506" width="38" height="32"/><path d="M1426 459V505M1410 505H1459M1449 505V539"/></g>
<g id="n19-38" class="n"><rect x="1468" y="459" width="13" height="23"/></g>
<g id="n19-39" class="n"><rect x="1488" y="459" width="42" height="55"/><rect class="d" x="1489" y="509" width="40" height="4"/><path d="M1488 508H1530"/></g>
<g id="n19-40" class="n"><rect x="1538" y="459" width="22" height="36"/><path d="M1538 477H1560"/></g>
<g id="n19-41" class="n"><rect x="1567" y="459" width="10" height="19"/></g>
<g id="n19-42" class="n"><rect x="1584" y="459" width="17" height="32"/></g>
<g id="n19-43" class="n"><rect class="g" x="1609" y="459" width="10" height="19"/></g>
<g id="n19-44" class="n"><rect x="1627" y="459" width="22" height="29"/></g>
<g id="n19-45" class="n"><rect x="1656" y="459" width="46" height="65"/><path d="M1675 459V490M1656 490H1702"/></g>
<g id="n19-46" class="n"><rect x="1710" y="459" width="61" height="100"/><rect class="d" x="1711" y="495" width="39" height="27"/><path d="M1722 459V494M1710 494H1771M1750 494V523M1754 494V559M1710 523H1771"/></g>
<g id="n19-47" class="n"><rect x="1779" y="459" width="28" height="44"/></g>
<g id="n19-48" class="n"><rect x="1814" y="459" width="20" height="29"/></g>
<g id="n19-49" class="n"><rect x="1841" y="459" width="19" height="34"/><path d="M1841 474H1860"/></g>
<g id="n19-50" class="n"><rect x="1868" y="459" width="46" height="71"/><path d="M1884 459V482M1868 482H1914M1868 488H1914M1874 488V530"/></g>
<g id="n19-51" class="n"><rect x="1922" y="459" width="17" height="26"/></g>
<g id="n19-52" class="n"><rect x="1946" y="459" width="14" height="23"/></g>
<g id="n19-53" class="n"><rect x="1967" y="459" width="83" height="125"/><rect class="d" x="1968" y="484" width="7" height="36"/><rect class="d" x="1994" y="484" width="11" height="36"/><rect class="d" x="2028" y="549" width="21" height="34"/><path d="M1997 459V483M2004 459V483M1967 483H2050M1975 483V521M1993 483V521M2005 483V521M1967 521H2050M2015 521V548M2021 521V548M1967 548H2050M2015 548V584M2027 548V584M2015 567H2027"/></g>
<g id="n19-54" class="n"><rect x="2058" y="459" width="25" height="35"/></g>
<g id="n19-55" class="n"><rect x="2092" y="459" width="39" height="62"/><path d="M2092 479H2131"/></g>
<g id="n19-56" class="n"><rect x="2138" y="459" width="10" height="19"/></g>
<g id="n19-57" class="n"><rect x="2156" y="459" width="55" height="91"/><rect class="d" x="2157" y="494" width="22" height="48"/><path d="M2184 459V493M2156 493H2211M2179 493V543M2156 543H2211"/></g>
<g id="n19-58" class="n"><rect x="2220" y="459" width="21" height="34"/></g>
<g id="n19-59" class="n"><rect x="2249" y="459" width="22" height="35"/></g>
<g id="n19-60" class="n"><rect x="2279" y="459" width="27" height="44"/><path d="M2284 459V503"/></g>
<g id="n19-61" class="n"><rect x="2314" y="459" width="42" height="63"/><rect class="d" x="2315" y="490" width="40" height="8"/><path d="M2314 489H2356M2314 498H2356"/></g>
<g id="n19-62" class="n"><rect x="2364" y="459" width="50" height="66"/><rect class="d" x="2365" y="460" width="8" height="59"/><path d="M2373 459V519M2364 519H2414"/></g>
<g id="n19-63" class="n"><rect x="2422" y="459" width="37" height="55"/><rect class="d" x="2423" y="496" width="35" height="17"/><path d="M2422 495H2459"/></g>
<g id="n19-64" class="n"><rect x="2467" y="459" width="9" height="19"/></g>
<g id="n19-65" class="n"><rect x="2485" y="459" width="10" height="19"/></g>
<g id="n19-66" class="n"><rect x="2503" y="459" width="17" height="23"/></g>
<g id="n19-67" class="n"><rect x="2528" y="459" width="16" height="31"/><path d="M2528 469H2544"/></g>
<g id="n19-68" class="n"><rect x="2552" y="459" width="9" height="19"/></g>
<g id="n19-69" class="n"><rect x="2569" y="459" width="24" height="33"/></g>
<g id="n19-70" class="n"><rect x="2602" y="459" width="24" height="43"/><path d="M2602 480H2626"/></g>
<g id="n19-71" class="n"><rect x="2634" y="459" width="16" height="26"/></g>
<g id="n19-72" class="n"><rect x="2658" y="459" width="14" height="23"/></g>
<g id="n19-73" class="n"><rect x="2680" y="459" width="10" height="19"/></g>
<g id="n19-74" class="n"><rect x="2698" y="459" width="13" height="23"/></g>
<g id="n19-75" class="n"><rect x="2719" y="459" width="9" height="19"/></g>
</g>
<g id="row20">
<g id="n20-1" class="n"><rect x="134" y="659" width="11" height="19"/></g>
<g id="n20-2" class="n"><rect x="153" y="659" width="12" height="19"/></g>
<g id="n20-3" class="n"><rect x="173" y="659" width="14" height="22"/></g>
<g id="n20-4" class="n"><rect x="195" y="659" width="19" height="35"/><rect class="d" x="196" y="678" width="8" height="15"/><path d="M195 677H214M204 677V694"/></g>
<g id="n20-5" class="n"><rect x="221" y="659" width="15" height="22"/></g>
<g id="n20-6" class="n"><rect x="244" y="659" width="27" height="43"/><path d="M244 673H271"/></g>
<g id="n20-7" class="n"><rect x="279" y="659" width="11" height="19"/></g>
<g id="n20-8" class="n"><rect x="298" y="659" width="36" height="53"/><rect class="d" x="299" y="701" width="34" height="10"/><path d="M298 700H334"/></g>
<g id="n20-9" class="n"><rect x="342" y="659" width="20" height="28"/></g>
<g id="n20-10" class="n"><rect x="370" y="659" width="24" height="40"/><path d="M370 690H394M370 696H394"/></g>
<g id="n20-11" class="n"><rect x="402" y="659" width="27" height="30"/></g>
<g id="n20-12" class="n"><rect x="437" y="659" width="45" height="65"/><path d="M445 659V724"/></g>
<g id="n20-13" class="n"><rect x="489" y="659" width="26" height="37"/></g>
<g id="n20-14" class="n"><rect x="522" y="659" width="32" height="52"/><path d="M528 659V711"/></g>
<g id="n20-15" class="n"><rect x="562" y="659" width="55" height="81"/><path d="M585 659V684M593 659V684M562 684H617M562 717H617M581 717V740"/></g>
<g id="n20-16" class="n"><rect class="g" x="624" y="659" width="12" height="19"/></g>
<g id="n20-17" class="n"><rect x="643" y="659" width="31" height="46"/><rect class="d" x="644" y="691" width="29" height="6"/><path d="M643 690H674M643 697H674"/></g>
<g id="n20-18" class="n"><rect x="681" y="659" width="42" height="58"/><rect class="d" x="682" y="701" width="13" height="15"/><path d="M681 700H723M695 700V717"/></g>
<g id="n20-19" class="n"><rect x="730" y="659" width="24" height="30"/></g>
<g id="n20-20" class="n"><rect x="762" y="659" width="46" height="72"/><path d="M797 659V683M762 683H808M775 683V731M762 711H775"/></g>
<g id="n20-21" class="n"><rect x="816" y="659" width="66" height="95"/><rect class="d" x="829" y="660" width="9" height="52"/><path d="M828 659V712M838 659V712M816 712H882M816 738H850M850 712V754"/></g>
<g id="n20-22" class="n"><rect x="890" y="659" width="11" height="19"/></g>
<g id="n20-23" class="n pkL"><rect x="908" y="659" width="34" height="30"/></g>
<g id="n20-24" class="n pkL"><rect x="948" y="659" width="30" height="35"/></g>
<g id="n20-25" class="n pkL"><rect x="985" y="659" width="38" height="47"/></g>
<g id="n20-26" class="n"><rect x="1030" y="659" width="69" height="102"/><rect class="d" x="1031" y="697" width="44" height="14"/><path d="M1048 659V696M1055 659V696M1030 696H1099M1030 712H1075M1030 716H1075M1030 727H1075M1075 696V761M1075 742H1099M1075 752H1099"/></g>
<g id="n20-27" class="n"><rect x="1107" y="659" width="11" height="19"/></g>
<g id="n20-28" class="n"><rect x="1125" y="659" width="12" height="19"/></g>
<g id="n20-29" class="n"><rect x="1145" y="659" width="14" height="25"/></g>
<g id="n20-30" class="n"><rect x="1168" y="659" width="35" height="42"/></g>
<g id="n20-31" class="n"><rect x="1211" y="659" width="11" height="19"/></g>
<g id="n20-32" class="n"><rect x="1230" y="659" width="11" height="19"/></g>
<g id="n20-33" class="n"><rect x="1249" y="659" width="87" height="124"/><rect class="d" x="1288" y="660" width="12" height="43"/><rect class="d" x="1317" y="726" width="18" height="28"/><path d="M1283 659V703M1287 659V703M1300 659V703M1249 703H1336M1270 703V725M1249 725H1336M1270 725V783M1316 725V754M1270 754H1336M1316 736H1336M1316 745H1336"/></g>
<g id="n20-34" class="n"><rect x="1343" y="659" width="23" height="30"/></g>
<g id="n20-35" class="n"><rect x="1374" y="659" width="21" height="30"/></g>
<g id="n20-36" class="n"><rect x="1403" y="659" width="52" height="74"/><rect class="d" x="1404" y="713" width="50" height="19"/><path d="M1409 659V733M1403 712H1455"/></g>
<g id="n20-37" class="n"><rect x="1462" y="659" width="12" height="19"/></g>
<g id="n20-38" class="n"><rect x="1481" y="659" width="53" height="72"/><rect class="d" x="1527" y="706" width="6" height="24"/><path d="M1481 705H1534M1526 705V731"/></g>
<g id="n20-39" class="n"><rect x="1542" y="659" width="22" height="34"/><path d="M1548 659V693"/></g>
<g id="n20-40" class="n"><rect class="g" x="1571" y="659" width="12" height="19"/></g>
<g id="n20-41" class="n"><rect x="1591" y="659" width="20" height="28"/></g>
<g id="n20-42" class="n"><rect x="1620" y="659" width="50" height="59"/><rect class="d" x="1621" y="685" width="48" height="32"/><path d="M1650 659V684M1620 684H1670"/></g>
<g id="n20-43" class="n"><rect x="1679" y="659" width="68" height="98"/><path d="M1686 659V698M1679 698H1747M1679 707H1698M1698 698V757M1698 730H1747"/></g>
<g id="n20-44" class="n"><rect x="1755" y="659" width="27" height="40"/></g>
<g id="n20-45" class="n"><rect x="1790" y="659" width="26" height="32"/></g>
<g id="n20-46" class="n"><rect x="1825" y="659" width="22" height="37"/><path d="M1825 676H1847"/></g>
<g id="n20-47" class="n"><rect x="1854" y="659" width="52" height="78"/><path d="M1858 659V737M1862 659V737M1854 700H1906M1854 728H1906"/></g>
<g id="n20-48" class="n"><rect x="1915" y="659" width="15" height="22"/></g>
<g id="n20-49" class="n"><rect x="1938" y="659" width="85" height="108"/><rect class="d" x="1969" y="660" width="12" height="38"/><rect class="d" x="2010" y="699" width="12" height="16"/><path d="M1968 659V698M1981 659V698M1938 698H2023M1978 698V767M1978 715H2023M2009 698V715"/></g>
<g id="n20-50" class="n"><rect x="2031" y="659" width="23" height="25"/></g>
<g id="n20-51" class="n"><rect x="2062" y="659" width="43" height="54"/></g>
<g id="n20-52" class="n"><rect x="2113" y="659" width="57" height="85"/><rect class="d" x="2114" y="689" width="21" height="54"/><path d="M2122 659V688M2113 688H2170M2113 703H2135M2135 688V744"/></g>
<g id="n20-53" class="n"><rect x="2178" y="659" width="29" height="39"/></g>
<g id="n20-54" class="n"><rect x="2214" y="659" width="23" height="30"/></g>
<g id="n20-55" class="n"><rect x="2245" y="659" width="30" height="42"/></g>
<g id="n20-56" class="n"><rect x="2283" y="659" width="37" height="59"/><rect class="d" x="2297" y="680" width="22" height="13"/><path d="M2283 679H2320M2283 694H2320M2296 679V694"/></g>
<g id="n20-57" class="n"><rect x="2328" y="659" width="64" height="88"/><rect class="d" x="2329" y="699" width="16" height="47"/><path d="M2352 659V698M2328 698H2392M2345 698V747M2345 737H2392M2369 737V747"/></g>
<g id="n20-58" class="n"><rect x="2400" y="659" width="41" height="54"/><rect class="d" x="2401" y="698" width="39" height="14"/><path d="M2400 697H2441"/></g>
<g id="n20-59" class="n"><rect x="2449" y="659" width="11" height="19"/></g>
<g id="n20-60" class="n"><rect x="2468" y="659" width="11" height="19"/></g>
<g id="n20-61" class="n"><rect x="2487" y="659" width="24" height="35"/></g>
<g id="n20-62" class="n"><rect x="2520" y="659" width="20" height="32"/><path d="M2520 668H2540"/></g>
<g id="n20-63" class="n"><rect x="2548" y="659" width="10" height="19"/></g>
<g id="n20-64" class="n"><rect x="2568" y="659" width="24" height="39"/></g>
<g id="n20-65" class="n"><rect x="2600" y="659" width="18" height="32"/><path d="M2600 668H2618"/></g>
<g id="n20-66" class="n"><rect x="2626" y="659" width="19" height="25"/></g>
<g id="n20-67" class="n"><rect x="2652" y="659" width="14" height="22"/></g>
<g id="n20-68" class="n"><rect x="2674" y="659" width="12" height="19"/></g>
<g id="n20-69" class="n"><rect x="2693" y="659" width="13" height="22"/></g>
<g id="n20-70" class="n"><rect x="2714" y="659" width="13" height="22"/></g>
</g>
</svg>
